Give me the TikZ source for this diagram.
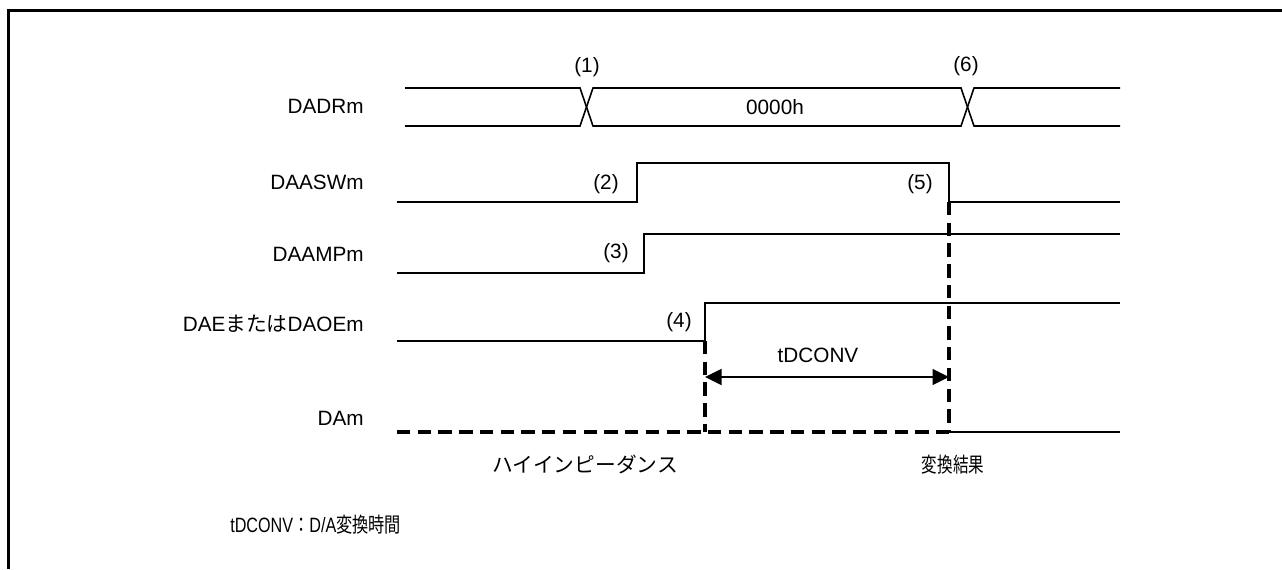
\documentclass[tikz,border=0pt]{standalone}
\usepackage{fontspec}
\setmainfont{Liberation Sans}
\newfontfamily\jpfont{Noto Sans CJK JP}
\usetikzlibrary{arrows.meta, positioning, calc}

\begin{document}
\begin{tikzpicture}[
    x=0.02cm, y=-0.02cm,
    font=\fontsize{11.8}{14}\selectfont,
    sig/.style={anchor=base east, inner sep=0pt},
    num/.style={anchor=base, inner sep=0pt},
    narrow/.style={xscale=#1, transform shape},
    wave/.style={line width=0.9pt},
    dashline/.style={line width=1.9pt, dash pattern=on 7.6pt off 4.2pt}
]
\useasboundingbox (0,0) rectangle (1282,569);
\draw[line width=1.7pt] (8.5,569) -- (8.5,10.5) -- (1282,10.5);

% signal names
\node[sig] (dadr) at (364,113) {DADRm};
\node[sig] (daasw) at (364,189) {DAASWm};
\node[sig] (daamp) at (364,261) {DAAMPm};
\node[sig] (dae) at (364,331) {DAE{\jpfont または}DAOEm};
\node[sig] (dam) at (364,425) {DAm};

% edges
\coordinate (t1) at (587,88);
\coordinate (t2) at (637,202);
\coordinate (t3) at (644,273);
\coordinate (t4) at (705,341);
\coordinate (t5) at (949,202);
\coordinate (t6) at (967,88);
\coordinate (damlow) at (397,432);

\draw[wave] (405,88) -- (580,88) -- (593,126) -- (961,126) -- (974,88) -- (1120,88);
\draw[wave] (405,126) -- (580,126) -- (593,88) -- (961,88) -- (974,126) -- (1120,126);
\draw[wave] (397,202) -- (t2) -- (637,163) -- (949,163) -- (t5) -- (1120,202);
\draw[wave] (397,273) -- (t3) -- (644,234) -- (1120,234);
\draw[wave] (397,341) -- (t4) -- (705,303) -- (1120,303);
\draw[dashline] (damlow) -- (t5 |- damlow);
\draw[wave] (t5 |- damlow) -- (1120,432);
\draw[dashline] (t4) -- (t4 |- damlow);
\draw[dashline] (t5) -- (t5 |- damlow);
\draw[line width=0.9pt, {Triangle[length=0.33cm,width=0.32cm]}-{Triangle[length=0.33cm,width=0.32cm]}]
    (705,377) -- (949,377);

% Annotations
\node[num] (m1) at (587,72) {(1)};
\node[num] (m6) at (966,71) {(6)};
\node[num] (val) at (775,114) {0000h};
\node[num] (m2) at (606,189) {(2)};
\node[num] (m5) at (920,189) {(5)};
\node[num] (m3) at (616,258) {(3)};
\node[num] (m4) at (679,327) {(4)};
\node[num] (conv) at (818,362) {tDCONV};
\node[num] (hiz) at (585,472) {\jpfont ハイインピーダンス};
\node[num, narrow=0.75] (res) at (953,472) {\jpfont 変換結果};
\node[anchor=base west, inner sep=0pt, narrow=0.78] (note) at (230,532) {tDCONV{\jpfont ：}D/A{\jpfont 変換時間}};

\end{tikzpicture}
\end{document}
